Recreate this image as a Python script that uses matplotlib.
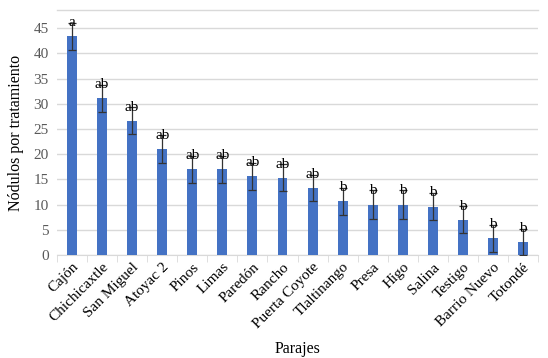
import matplotlib.pyplot as plt
import numpy as np

plt.rcParams['font.family'] = ['Liberation Serif', 'DejaVu Serif']

# data
parajes = ['Cajón', 'Chichicaxtle', 'San Miguel', 'Atoyac 2', 'Pinos', 'Limas',
           'Paredón', 'Rancho', 'Puerta Coyote', 'Tlaltinango', 'Presa', 'Higo',
           'Salina', 'Testigo', 'Barrio Nuevo', 'Totondé']
nodulos = [43.4, 31.1, 26.6, 21.0, 17.0, 17.0, 15.6, 15.3, 13.3, 10.6, 10.0, 10.0,
           9.6, 7.0, 3.3, 2.6]
error = [2.7, 2.7, 2.7, 2.7, 2.7, 2.7, 2.7, 2.7, 2.6, 2.7, 2.8, 2.8,
         2.7, 2.7, 2.7, 2.6]
letras = ['a', 'ab', 'ab', 'ab', 'ab', 'ab', 'ab', 'ab', 'ab',
          'b', 'b', 'b', 'b', 'b', 'b', 'b']
yticks = [0, 5, 10, 15, 20, 25, 30, 35, 40, 45]

fig = plt.figure(figsize=(5.48, 3.58), dpi=100)
ax = fig.add_axes([0.104, 0.288, 0.878, 0.684])

x = np.arange(len(parajes))
ax.bar(x, nodulos, width=0.33, color='#4472C4', zorder=3)
ax.errorbar(x, nodulos, yerr=error, fmt='none', ecolor='#333333',
            elinewidth=0.9, capsize=3, capthick=0.9, zorder=4)

for xi, v, e, t in zip(x, nodulos, error, letras):
    ax.text(xi, v + e, t, ha='center', va='center', fontsize=11, zorder=5)

ax.set_xlim(-0.5, len(parajes) - 0.5)
ax.set_ylim(0, 48.6)
ax.set_yticks(yticks)
ax.yaxis.grid(True, color='#D9D9D9', linewidth=1, zorder=0)
ax.tick_params(axis='y', length=0, labelsize=11, labelcolor='#595959', pad=6)

ax.set_xticks(x)
ax.set_xticklabels(parajes, rotation=45, ha='right', rotation_mode='anchor',
                   fontsize=11)
ax.tick_params(axis='x', which='major', length=0, pad=4)
ax.set_xticks(np.arange(-0.5, len(parajes), 1), minor=True)
ax.tick_params(axis='x', which='minor', length=5, color='#D9D9D9')

for s in ['left', 'right']:
    ax.spines[s].set_visible(False)
ax.spines['bottom'].set_color('#D9D9D9')
ax.spines['top'].set_color('#D9D9D9')
ax.spines['top'].set_linewidth(1)

ax.set_ylabel('Nódulos por tratamiento', fontsize=11.5, labelpad=7)
ax.set_xlabel('Parajes', fontsize=11.5, labelpad=7)

fig.savefig('out.png', dpi=100)
